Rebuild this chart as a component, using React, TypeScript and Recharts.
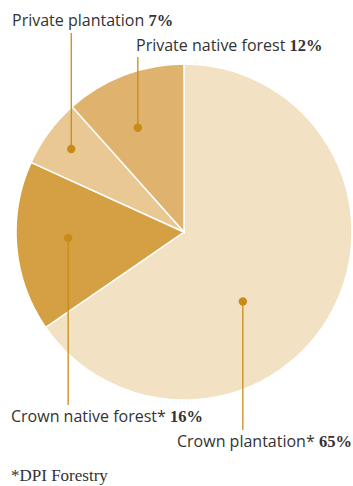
import { PieChart, Pie, Cell } from 'recharts';

const CATEGORIES = ['Crown plantation*', 'Crown native forest*', 'Private plantation', 'Private native forest'];
const SHARES = [65.4, 16.4, 6.6, 11.6];

const SLICE_COLORS = ['#f3e1c4', '#d4a043', '#e9c893', '#dfb36d'];
const ACCENT = '#c98b17';

// where each callout sits: dot offset from slice middle, line end, text anchor point
const CALLOUTS = [
  { shift: -22, r: 91, lineEnd: 430, tx: 177, ty: 447 },
  { shift: -2, r: 116, lineEnd: 405, tx: 11, ty: 422 },
  { shift: 0, r: 140, lineEnd: 33, tx: 12, ty: 26 },
  { shift: 3, r: 114, lineEnd: 57, tx: 136, ty: 51 },
];

const data = CATEGORIES.map((name, i) => ({ name, value: SHARES[i] }));

const RAD = Math.PI / 180;

function renderCallout(props: any) {
  const { cx, cy, midAngle, index } = props;
  const c = CALLOUTS[index];
  const a = (midAngle + c.shift) * RAD;
  const x = cx + c.r * Math.cos(a);
  const y = cy - c.r * Math.sin(a);
  return (
    <g key={`callout-${index}`}>
      <line x1={x} y1={y} x2={x} y2={c.lineEnd} stroke={ACCENT} strokeWidth={1.3} />
      <circle cx={x} cy={y} r={4.2} fill={ACCENT} />
      <text x={c.tx} y={c.ty} fill="#333" fontSize={16} fontFamily="'Open Sans', sans-serif">
        {CATEGORIES[index]}{' '}
        <tspan fontFamily="'Liberation Serif', serif" fontWeight="bold" fontSize={16.5}>
          {Math.round(SHARES[index])}%
        </tspan>
      </text>
    </g>
  );
}

export default function App() {
  return (
    <div style={{ position: 'absolute', left: 0, top: 0, width: 353, height: 486, background: '#fff' }}>
      <PieChart width={353} height={486} margin={{ top: 0, right: 0, bottom: 0, left: 0 }}>
        <Pie
          data={data}
          dataKey="value"
          cx={184}
          cy={232}
          outerRadius={168}
          startAngle={90}
          endAngle={-270}
          stroke="#ffffff"
          strokeWidth={1.5}
          label={renderCallout}
          labelLine={false}
          isAnimationActive={false}
        >
          {data.map((_, i) => (
            <Cell key={i} fill={SLICE_COLORS[i]} />
          ))}
        </Pie>
        <text x={11} y={481} fill="#333" fontSize={17} fontFamily="'Liberation Serif', serif">
          *DPI Forestry
        </text>
      </PieChart>
    </div>
  );
}
